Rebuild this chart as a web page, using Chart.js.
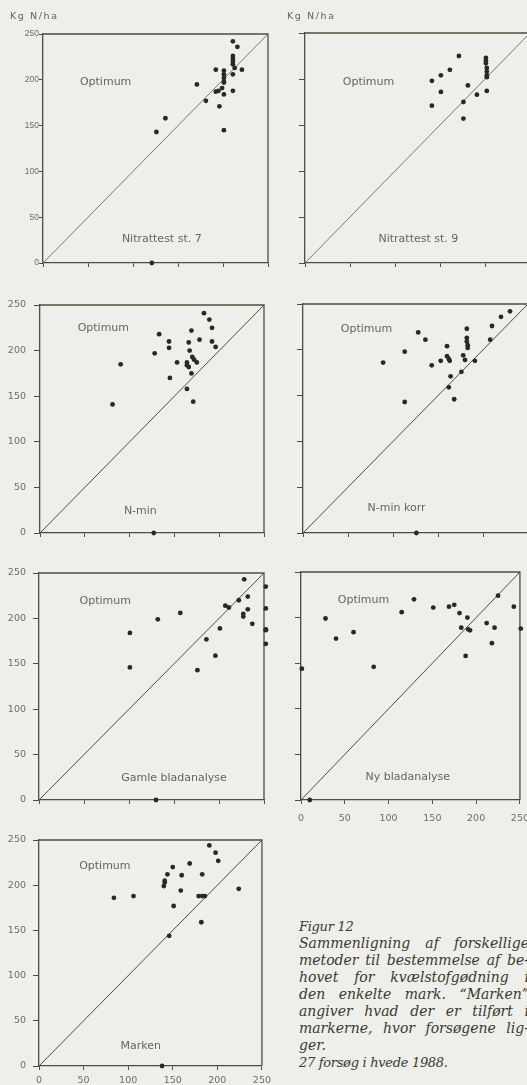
<!DOCTYPE html>
<html>
<head>
<meta charset="utf-8">
<script src="https://cdn.jsdelivr.net/npm/chart.js@4.4.1/dist/chart.umd.min.js"></script>
<style>
  html, body { margin: 0; padding: 0; background: #eeeeea; }
  body { position: relative; width: 527px; height: 1085px; overflow: hidden; }
  canvas { position: absolute; }
  #caption {
    position: absolute; left: 299px; top: 918px; width: 230px;
    font-family: "DejaVu Serif", serif; font-style: italic;
    font-size: 14px; line-height: 17px; color: #3a3a2e;
  }
  #caption div { white-space: nowrap; }
  #caption div.s { font-size: 13px; letter-spacing: -0.3px; }
  #caption div.j { text-align: justify; text-align-last: justify; white-space: normal; }
</style>
</head>
<body>
<div id="caption">
  <div class="s">Figur 12</div>
  <div class="j">Sammenligning af forskellige</div>
  <div class="j">metoder til bestemmelse af be-</div>
  <div class="j">hovet for kvælstofgødning i</div>
  <div class="j">den enkelte mark. “Marken”</div>
  <div class="j">angiver hvad der er tilført i</div>
  <div class="j">markerne, hvor forsøgene lig-</div>
  <div>ger.</div>
  <div class="s">27 forsøg i hvede 1988.</div>
</div>
<script>
// Axis ticks shared by every panel (kg N/ha on both axes)
const tickValues = [0, 50, 100, 150, 200, 250];
const axisMin = 0;
const axisMax = 250;
// 1:1 reference line
const oneToOne = [[0, 0], [250, 250]];

// [method estimate, economic optimum] per trial
const nitrattest7 = [[211,242],[216,236],[211,226],[211,223],[211,220],[211,217],[213,213],[221,211],[192,211],[201,210],[201,206],[201,202],[201,198],[201,197],[211,206],[171,195],[199,191],[195,188],[192,187],[211,188],[201,184],[181,177],[196,171],[136,158],[126,143],[201,145],[121,0]];
const nitrattest9 = [[171,225],[201,223],[201,220],[201,217],[202,212],[202,208],[202,204],[202,202],[161,210],[151,204],[141,198],[181,193],[151,186],[202,187],[191,183],[176,175],[141,171],[176,157]];
const nMin = [[183,241],[189,234],[192,225],[169,222],[133,218],[178,212],[144,210],[166,209],[192,210],[144,203],[196,204],[128,197],[167,200],[170,193],[172,190],[175,187],[153,187],[164,187],[164,184],[166,182],[169,175],[145,170],[164,158],[171,144],[81,141],[90,185],[127,0]];
const nMinKorr = [[230,242],[220,236],[210,226],[182,223],[128,219],[136,211],[182,213],[182,209],[183,205],[183,202],[208,211],[160,204],[113,198],[160,193],[162,190],[163,188],[178,194],[153,188],[180,189],[191,188],[89,186],[143,183],[176,176],[164,171],[162,159],[168,146],[113,143],[126,0]];
const gamleBladanalyse = [[228,243],[232,224],[222,220],[207,214],[211,212],[157,206],[232,210],[227,205],[227,202],[132,199],[237,194],[201,189],[101,184],[186,177],[196,159],[176,143],[101,146],[252,235],[252,211],[252,188],[252,187],[252,172],[130,0]];
const nyBladanalyse = [[28,199],[40,177],[60,184],[83,146],[115,206],[129,220],[151,211],[169,212],[175,214],[181,205],[190,200],[183,189],[191,187],[193,186],[188,158],[212,194],[221,189],[218,172],[225,224],[243,212],[251,188],[1,144],[10,0]];
const marken = [[191,244],[198,236],[201,227],[169,224],[150,220],[144,212],[160,211],[183,212],[141,205],[141,203],[140,199],[159,194],[224,196],[84,186],[106,188],[179,188],[183,188],[186,188],[151,177],[182,159],[146,144],[138,0]];

const panelNames = ['Nitrattest st. 7', 'Nitrattest st. 9', 'N-min', 'N-min korr', 'Gamle bladanalyse', 'Ny bladanalyse', 'Marken'];
const regionLabel = 'Optimum';
const unitLabel = 'Kg N/ha';

// colours
const ink = '#29291f';
const axisInk = '#4e4e3e';
const textInk = '#66665a';
const tickInk = '#6e6e62';

// panel layout (pixel placement of each plot area)
const panels = [
  { points: nitrattest7, name: panelNames[0], canvasLeft: 0,   plotLeft: 43,  plotTop: 34,  plotW: 225, plotH: 229,
    yLabels: true, yFont: { family: 'Liberation Sans', size: 8.5 }, yTick: 4, yPad: 0,
    xLabels: false, unit: [-33, -17], opt: [41, 197], nameAt: [132, 26], diag: '#7a7a6c' },
  { points: nitrattest9, name: panelNames[1], canvasLeft: 260, plotLeft: 305, plotTop: 33,  plotW: 225, plotH: 230,
    yLabels: false, yTick: 6, yPad: 0,
    xLabels: false, unit: [-18, -16], opt: [42, 197], nameAt: [126, 26], diag: '#7a7a6c' },
  { points: nMin, name: panelNames[2], canvasLeft: 0,   plotLeft: 40,  plotTop: 305, plotW: 224, plotH: 228,
    yLabels: true, yFont: { family: 'DejaVu Sans', size: 9.5 }, yTick: 6, yPad: 8,
    xLabels: false, opt: [42, 225], nameAt: [112, 24], diag: axisInk },
  { points: nMinKorr, name: panelNames[3], canvasLeft: 260, plotLeft: 303, plotTop: 304, plotW: 225, plotH: 229,
    yLabels: false, yTick: 6, yPad: 0,
    xLabels: false, opt: [42, 223], nameAt: [104, 27], diag: axisInk },
  { points: gamleBladanalyse, name: panelNames[4], canvasLeft: 0,   plotLeft: 39,  plotTop: 573, plotW: 225, plotH: 227,
    yLabels: true, yFont: { family: 'DejaVu Sans', size: 9.5 }, yTick: 6, yPad: 7,
    xLabels: false, opt: [45, 219], nameAt: [150, 24], diag: axisInk },
  { points: nyBladanalyse, name: panelNames[5], canvasLeft: 260, plotLeft: 301, plotTop: 572, plotW: 225, plotH: 228,
    yLabels: false, yTick: 6, yPad: 0,
    xLabels: true, xPad: 9, opt: [42, 219], nameAt: [122, 25], diag: axisInk },
  { points: marken, name: panelNames[6], canvasLeft: 0,   plotLeft: 39,  plotTop: 840, plotW: 225, plotH: 226,
    yLabels: true, yFont: { family: 'DejaVu Sans', size: 9.5 }, yTick: 6, yPad: 7,
    xLabels: true, xPad: 5, opt: [45, 221], nameAt: [114, 22], diag: axisInk }
];

// frame (top/right edges) and in-panel texts
const panelDecor = {
  id: 'panelDecor',
  beforeDatasetsDraw(chart) {
    const a = chart.chartArea, ctx = chart.ctx;
    ctx.save();
    ctx.strokeStyle = axisInk;
    ctx.lineWidth = 1.3;
    ctx.beginPath();
    ctx.moveTo(a.left - 1, a.top);
    ctx.lineTo(a.right, a.top);
    ctx.lineTo(a.right, a.bottom);
    ctx.stroke();
    ctx.restore();
  },
  afterDraw(chart) {
    const p = chart.options.plugins.panelDecor;
    const a = chart.chartArea, ctx = chart.ctx;
    const sx = chart.scales.x, sy = chart.scales.y;
    ctx.save();
    ctx.fillStyle = textInk;
    ctx.textBaseline = 'middle';
    ctx.font = '11px "DejaVu Sans"';
    ctx.textAlign = 'left';
    ctx.fillText(regionLabel, sx.getPixelForValue(p.opt[0]), sy.getPixelForValue(p.opt[1]));
    ctx.textAlign = 'center';
    ctx.fillText(p.name, sx.getPixelForValue(p.nameAt[0]), sy.getPixelForValue(p.nameAt[1]));
    if (p.unit) {
      ctx.textAlign = 'left';
      ctx.font = '9.5px "DejaVu Sans"';
      if ('letterSpacing' in ctx) ctx.letterSpacing = '1.6px';
      ctx.fillText(unitLabel, a.left + p.unit[0], a.top + p.unit[1]);
    }
    ctx.restore();
  }
};

function makePanel(p) {
  const padTop = 30, padBottom = 26, padRight = 12;
  const axisW = p.plotLeft - p.canvasLeft;
  const cw = axisW + p.plotW + padRight;
  const ch = padTop + p.plotH + padBottom;
  const cv = document.createElement('canvas');
  cv.width = cw; cv.height = ch;
  cv.style.width = cw + 'px'; cv.style.height = ch + 'px';
  cv.style.left = p.canvasLeft + 'px';
  cv.style.top = (p.plotTop - padTop) + 'px';
  document.body.appendChild(cv);

  const fixedTicks = s => { s.ticks = tickValues.map(v => ({ value: v })); };

  new Chart(cv, {
    data: {
      datasets: [
        { type: 'line', data: oneToOne.map(([x, y]) => ({ x, y })), borderColor: p.diag, borderWidth: 1,
          pointRadius: 0, fill: false, clip: false, order: 2 },
        { type: 'scatter', data: p.points.map(([x, y]) => ({ x, y })), backgroundColor: ink, borderWidth: 0,
          pointRadius: 2.4, clip: false, order: 1 }
      ]
    },
    options: {
      responsive: false, animation: false, devicePixelRatio: 1,
      layout: { padding: { top: padTop, right: padRight, left: 0, bottom: 0 } },
      plugins: {
        legend: { display: false }, tooltip: { enabled: false },
        panelDecor: { name: p.name, opt: p.opt, nameAt: p.nameAt, unit: p.unit }
      },
      scales: {
        x: {
          type: 'linear', min: axisMin, max: axisMax,
          afterBuildTicks: fixedTicks,
          afterFit: s => { s.height = padBottom; },
          grid: { display: true, drawOnChartArea: false, drawTicks: true, tickLength: 4, color: axisInk, lineWidth: 1 },
          border: { display: true, color: axisInk, width: 1.3 },
          ticks: { display: p.xLabels, autoSkip: false, maxRotation: 0, padding: p.xPad || 0,
                   color: tickInk, font: { family: 'DejaVu Sans', size: 9.5 } }
        },
        y: {
          type: 'linear', min: axisMin, max: axisMax,
          afterBuildTicks: fixedTicks,
          afterFit: s => { s.width = axisW; },
          grid: { display: true, drawOnChartArea: false, drawTicks: true, tickLength: p.yTick, color: axisInk, lineWidth: 1 },
          border: { display: true, color: axisInk, width: 1.3 },
          ticks: { display: p.yLabels, autoSkip: false, padding: p.yPad, color: tickInk,
                   font: p.yFont || { family: 'DejaVu Sans', size: 9.5 } }
        }
      }
    },
    plugins: [panelDecor]
  });
}

panels.forEach(makePanel);
</script>
</body>
</html>
